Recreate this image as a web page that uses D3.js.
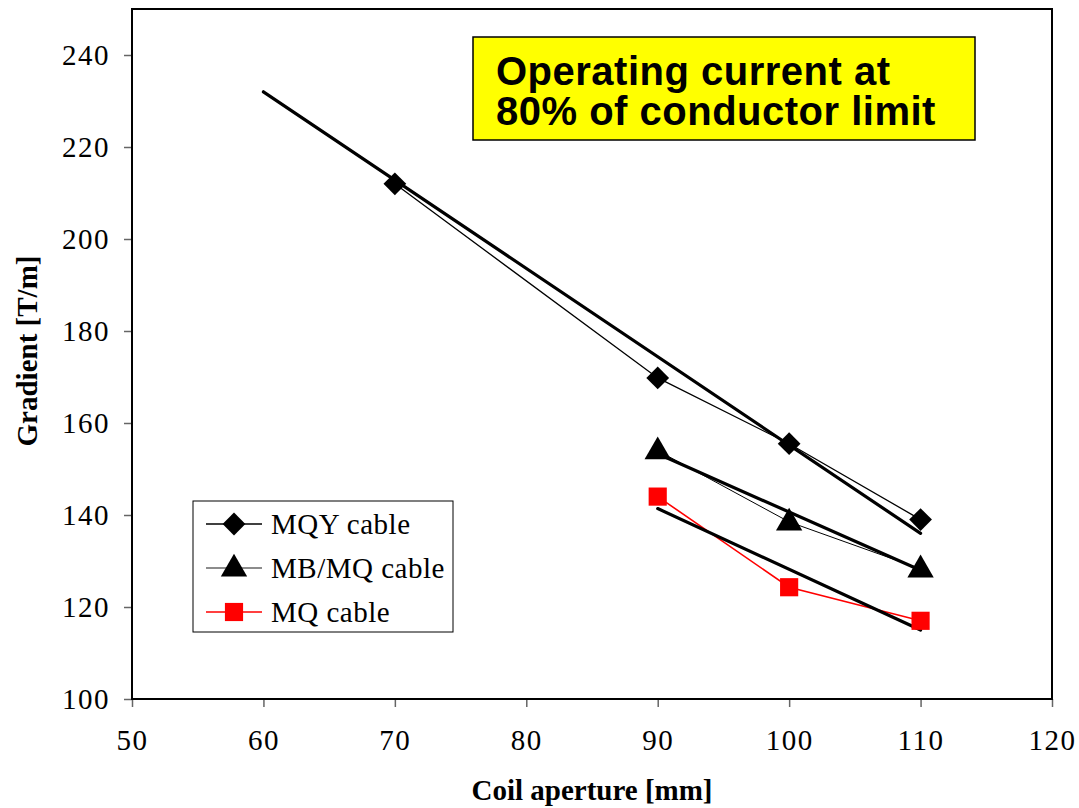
<!DOCTYPE html>
<html lang="en">
<head>
<meta charset="UTF-8">
<title>Gradient vs coil aperture</title>
<script src="https://d3js.org/d3.v7.min.js"></script>
<style>
 body { margin: 0; background: #fff; }
 .axis .tick text { font-family: "Liberation Serif", "Times New Roman", serif; font-size: 29px; fill: #000; letter-spacing: 1.5px; }
 .axis .tick line { stroke: #666; stroke-width: 1.5px; }
 .axis path { display: none; }
 .title { font-family: "Liberation Serif", serif; font-weight: bold; font-size: 29px; }
 .legend text { font-family: "Liberation Serif", serif; font-size: 29px; letter-spacing: 0.5px; }
 .note text { font-family: "Liberation Sans", Arial, sans-serif; font-weight: bold; font-size: 40px; letter-spacing: 0.5px; }
</style>
</head>
<body>
<div id="chart"></div>
<script>
// aperture [mm] for each series
const mqyX = [70, 90, 100, 110];
const mqyY = [212, 169.8, 155.5, 139];
const mbmqX = [90, 100, 110];
const mbmqY = [154, 138.5, 128.3];
const mqX = [90, 100, 110];
const mqY = [144, 124.3, 117];

// linear fits (thick lines)
const mqyFitX = [60, 110];
const mqyFitY = [232, 136];
const mbmqFitX = [90, 110];
const mbmqFitY = [153.3, 128];
const mqFitX = [90, 110];
const mqFitY = [141.4, 115];

const xTicks = [50, 60, 70, 80, 90, 100, 110, 120];
const yTicks = [100, 120, 140, 160, 180, 200, 220, 240];

const width = 1079, height = 808;
const margin = {left: 132, right: 27, top: 9, bottom: 109};

const svg = d3.select('#chart').append('svg')
  .attr('width', width)
  .attr('height', height);

const x = d3.scaleLinear().domain([50, 120]).range([margin.left, width - margin.right]);
const y = d3.scaleLinear().domain([100, 250]).range([height - margin.bottom, margin.top]);

// axes
svg.append('g')
  .attr('class', 'axis')
  .attr('transform', `translate(0,${y(100)})`)
  .call(d3.axisBottom(x).tickValues(xTicks).tickSize(8).tickPadding(22));

svg.append('g')
  .attr('class', 'axis')
  .attr('transform', `translate(${x(50)},0)`)
  .call(d3.axisLeft(y).tickValues(yTicks).tickSize(8).tickPadding(14));

// plot frame
svg.append('rect')
  .attr('x', x(50))
  .attr('y', y(250))
  .attr('width', x(120) - x(50))
  .attr('height', y(100) - y(250))
  .attr('fill', 'none')
  .attr('stroke', '#000')
  .attr('stroke-width', 2);

const zip = (xs, ys) => xs.map((v, i) => [v, ys[i]]);
const line = d3.line().x(d => x(d[0])).y(d => y(d[1]));

// data lines
svg.append('path').attr('d', line(zip(mqyX, mqyY)))
  .attr('fill', 'none').attr('stroke', '#000').attr('stroke-width', 1.3);
svg.append('path').attr('d', line(zip(mbmqX, mbmqY)))
  .attr('fill', 'none').attr('stroke', '#000').attr('stroke-width', 1);
svg.append('path').attr('d', line(zip(mqX, mqY)))
  .attr('fill', 'none').attr('stroke', '#ff0000').attr('stroke-width', 1.6);

// fit lines
[[mqyFitX, mqyFitY], [mbmqFitX, mbmqFitY], [mqFitX, mqFitY]].forEach(f => {
  svg.append('path').attr('d', line(zip(f[0], f[1])))
    .attr('fill', 'none').attr('stroke', '#000').attr('stroke-width', 3.2)
    .attr('stroke-linecap', 'round');
});

// markers
const diamond = d3.symbol().type(d3.symbolDiamond2).size(330);
const tri = d3.symbol().type(d3.symbolTriangle).size(300);
const sq = d3.symbol().type(d3.symbolSquare).size(330);

svg.selectAll('.mqy').data(zip(mqyX, mqyY)).enter().append('path')
  .attr('transform', d => `translate(${x(d[0])},${y(d[1])})`)
  .attr('d', diamond).attr('fill', '#000');
svg.selectAll('.mbmq').data(zip(mbmqX, mbmqY)).enter().append('path')
  .attr('transform', d => `translate(${x(d[0])},${y(d[1]) + 1})`)
  .attr('d', tri).attr('fill', '#000');
svg.selectAll('.mq').data(zip(mqX, mqY)).enter().append('path')
  .attr('transform', d => `translate(${x(d[0])},${y(d[1])})`)
  .attr('d', sq).attr('fill', '#ff0000');

// axis titles
svg.append('text').attr('class', 'title')
  .attr('x', 592).attr('y', 800)
  .attr('text-anchor', 'middle').text('Coil aperture [mm]');
svg.append('text').attr('class', 'title')
  .attr('transform', `translate(37,351) rotate(-90)`)
  .attr('text-anchor', 'middle').text('Gradient [T/m]');

// legend
const legend = svg.append('g').attr('class', 'legend');
legend.append('rect').attr('x', 193).attr('y', 501).attr('width', 260).attr('height', 131)
  .attr('fill', '#fff').attr('stroke', '#000').attr('stroke-width', 1);
const legItems = [
  {name: 'MQY cable', sym: diamond, color: '#000', stroke: '#000'},
  {name: 'MB/MQ cable', sym: tri, color: '#000', stroke: '#666'},
  {name: 'MQ cable', sym: sq, color: '#ff0000', stroke: '#ff0000'}
];
legItems.forEach((it, i) => {
  const cy = 524 + i * 44;
  legend.append('line').attr('x1', 206).attr('x2', 262).attr('y1', cy).attr('y2', cy)
    .attr('stroke', it.stroke).attr('stroke-width', 1.3);
  legend.append('path').attr('transform', `translate(234,${cy + (i === 1 ? 1 : 0)})`)
    .attr('d', it.sym).attr('fill', it.color);
  legend.append('text').attr('x', 271).attr('y', cy + 10).text(it.name);
});

// note box
const note = svg.append('g').attr('class', 'note');
note.append('rect').attr('x', 473).attr('y', 37).attr('width', 502).attr('height', 103)
  .attr('fill', '#ffff00').attr('stroke', '#000').attr('stroke-width', 1.5);
note.append('text').attr('x', 496).attr('y', 85).text('Operating current at');
note.append('text').attr('x', 496).attr('y', 125).text('80% of conductor limit');
</script>
</body>
</html>
